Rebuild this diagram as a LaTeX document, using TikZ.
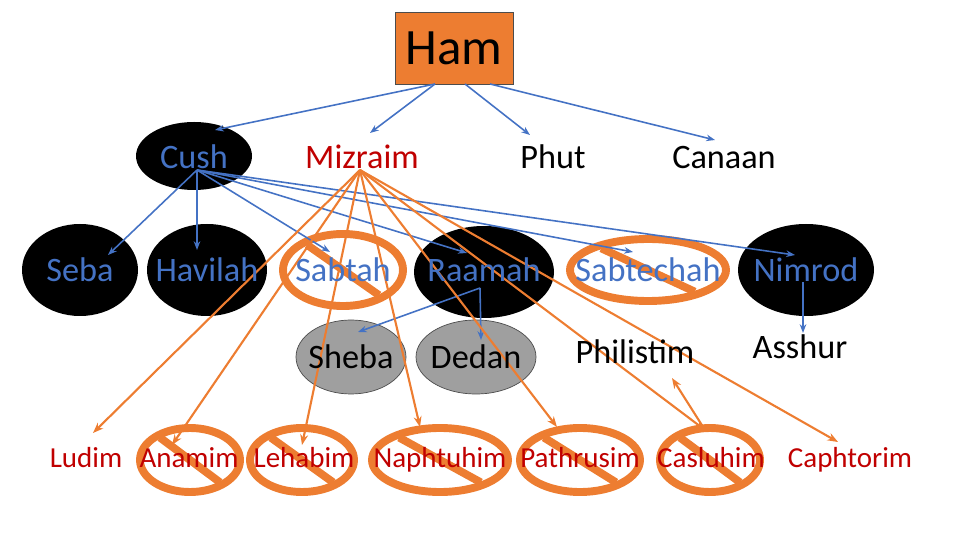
\documentclass[tikz,border=0pt]{standalone}
\usepackage{fontspec}
\setmainfont{Carlito}
\usetikzlibrary{arrows.meta,shapes.geometric}
\definecolor{ob}{RGB}{237,125,49}
\definecolor{bl}{RGB}{68,114,196}
\definecolor{rd}{RGB}{192,0,0}
\begin{document}
\begin{tikzpicture}[x=0.02cm,y=-0.02cm,
  blu/.style={draw=bl,line width=0.9pt,-{Stealth[length=5pt]}},
  ora/.style={draw=ob,line width=1.2pt,-{Stealth[length=6pt]}},
  t2/.style={font=\fontsize{19.5}{22}\selectfont,text height=13pt,text depth=4pt,yshift=-0.07cm},
  t4/.style={font=\fontsize{16.5}{19}\selectfont,text=rd,text height=11pt,text depth=3.5pt,yshift=-0.06cm},
  bt/.style={text=bl},
  ring/.style={draw=ob,line width=4.5pt}]
\useasboundingbox (0,0) rectangle (960,540);
% black ellipses
\fill (194,156) ellipse [x radius=58,y radius=34];
\fill (80,270) ellipse [x radius=58,y radius=46];
\fill (207,270) ellipse [x radius=60,y radius=46];
\fill (484,272) ellipse [x radius=70,y radius=46];
\fill (806,270) ellipse [x radius=68,y radius=46];
\filldraw[fill=gray!75,draw=gray!60!black] (351,357) ellipse [x radius=55,y radius=37];
\filldraw[fill=gray!75,draw=gray!60!black] (476,357) ellipse [x radius=60,y radius=37];
% rings
\foreach \x/\y/\a/\b in {343/270/60/36, 648/270/78/31, 190/460/50/32, 302/460/52/32, 440/460/68/32, 580/460/60/32, 710/460/50/32}{
  \draw[ring] (\x,\y) ellipse [x radius=\a,y radius=\b];
  \draw[ring] ({\x-0.6*\a},{\y-0.7*\b}) -- ({\x+0.6*\a},{\y+0.7*\b});
}
% Ham
\node[draw=gray!60!black,fill=ob,minimum width=118*0.02cm,minimum height=72*0.02cm,font=\fontsize{29}{32}\selectfont] (ham) at (454,48) {Ham};
% arrow anchor coords
\coordinate (hb1) at (435,84); \coordinate (hb2) at (465,84); \coordinate (hb3) at (490,84);
\coordinate (cs) at (197,170); \coordinate (ms) at (360,170);
\coordinate (rs) at (480,288); \coordinate (ns) at (803,282);
\coordinate (cs2) at (705,430);
\coordinate (e1) at (215,130); \coordinate (e2) at (370,133); \coordinate (e3) at (530,135); \coordinate (e4) at (715,140);
\coordinate (f1) at (108,255); \coordinate (f2) at (197,250); \coordinate (f3) at (330,252);
\coordinate (f4) at (467,253); \coordinate (f5) at (633,252); \coordinate (f6) at (795,255);
\coordinate (g1) at (358,332); \coordinate (g2) at (481,340); \coordinate (g3) at (803,333);
\coordinate (h1) at (93,433); \coordinate (h2) at (172,445); \coordinate (h3) at (302,445);
\coordinate (h4) at (420,427); \coordinate (h5) at (557,427); \coordinate (h6) at (705,430);
\coordinate (h7) at (838,442); \coordinate (pe) at (672,378);
\draw[blu] (hb1) -- (e1);
\draw[blu] (hb1) -- (e2);
\draw[blu] (hb2) -- (e3);
\draw[blu] (hb3) -- (e4);
\foreach \f in {f1,f2,f3,f4,f5,f6} \draw[blu] (cs) -- (\f);
\draw[blu] (rs) -- (g1);
\draw[blu] (rs) -- (g2);
\draw[blu] (ns) -- (g3);
\foreach \h in {h1,h2,h3,h4,h5,h6,h7} \draw[ora] (ms) -- (\h);
\draw[ora] (cs2) -- (pe);
% texts
\node[t2,bt] (cush) at (194,157) {Cush};
\node[t2,text=rd] (miz) at (362,157) {Mizraim};
\node[t2] (phut) at (553,157) {Phut};
\node[t2] (can) at (724,157) {Canaan};
\node[t2,bt] (seba) at (80,270) {Seba};
\node[t2,bt] (hav) at (207,270) {Havilah};
\node[t2,bt] (sabtah) at (343,270) {Sabtah};
\node[t2,bt] (raamah) at (484,270) {Raamah};
\node[t2,bt] (sabte) at (648,270) {Sabtechah};
\node[t2,bt] (nim) at (806,270) {Nimrod};
\node[t2] (sheba) at (351,357) {Sheba};
\node[t2] (dedan) at (476,357) {Dedan};
\node[t2] (phil) at (635,352) {Philistim};
\node[t2] (ass) at (800,347) {Asshur};
\node[t4] (lud) at (86,458) {Ludim};
\node[t4] (ana) at (189,458) {Anamim};
\node[t4] (leh) at (304,458) {Lehabim};
\node[t4] (nap) at (440,458) {Naphtuhim};
\node[t4] (pat) at (580,458) {Pathrusim};
\node[t4] (cas) at (711,458) {Casluhim};
\node[t4] (cap) at (850,458) {Caphtorim};
\end{tikzpicture}
\end{document}
